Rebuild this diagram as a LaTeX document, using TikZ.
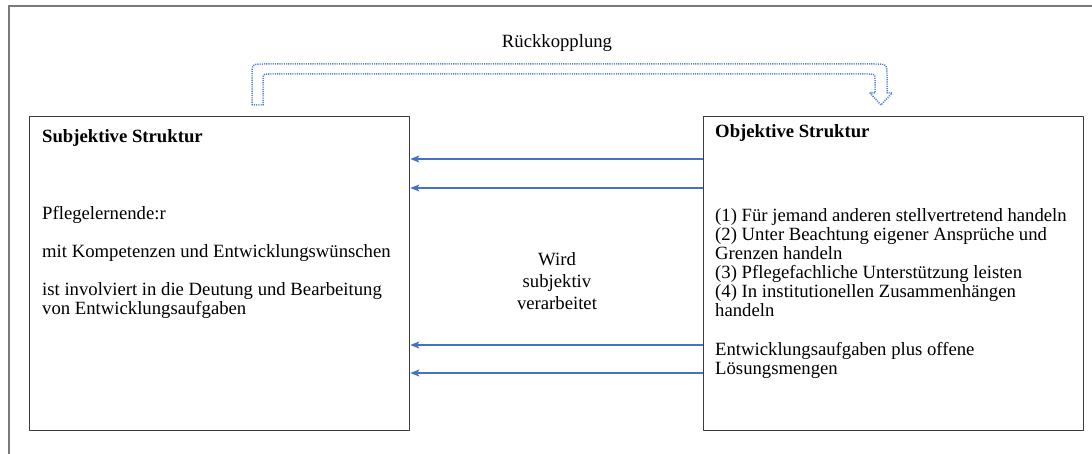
\documentclass[tikz,border=0pt]{standalone}
\usepackage{fontspec}
\setmainfont{Liberation Serif}
\usetikzlibrary{arrows.meta}

\definecolor{rule}{HTML}{7A7A7A}
\definecolor{boxline}{HTML}{3C3C3C}
\definecolor{flow}{HTML}{4472C4}
\definecolor{loopblue}{HTML}{4F7FD6}

\begin{document}
\begin{tikzpicture}[
  x=1pt, y=-1pt,
  line join=round,
  edge/.style={line width=1.3pt, draw=boxline},
  box/.style={edge, anchor=north west, minimum width=380pt, minimum height=314pt, inner sep=0pt},
  txt/.style={font=\fontsize{18.7}{19}\selectfont, anchor=base west, align=left, inner sep=0pt},
  arr/.style={line width=1.4pt, draw=flow, -{Stealth[length=9pt,width=7pt,inset=2pt]}},
  back/.style={line width=1.5pt, draw=loopblue, dash pattern=on 1.1pt off 1.1pt},
]
\useasboundingbox (0,0) rectangle (1092,454);

% ── the page frame, top and left only ─────────────────────────────────────
\draw[draw=rule, line width=1.5pt] (8,6) -- (1092,6);
\draw[draw=rule, line width=1.5pt] (9,6) -- (9,454);

% ── the two structures ────────────────────────────────────────────────────
\node[box] (subj) at (29,116) {};
\node[box] (obj) at (703,116) {};

% multi-line texts are placed by the baseline of their last line
\node[txt] (subjtitle) at (42,143) {\textbf{Subjektive Struktur}};
\node[txt] (subjtext) at (42,315)
  {Pflegelernende:r\\[19pt]
   mit Kompetenzen und Entwicklungswünschen\\[19pt]
   ist involviert in die Deutung und Bearbeitung\\
   von Entwicklungsaufgaben};

\node[txt] (objtitle) at (715,138) {\textbf{Objektive Struktur}};
\node[txt] (objtext) at (715,374)
  {(1) Für jemand anderen stellvertretend handeln\\
   (2) Unter Beachtung eigener Ansprüche und\\
   Grenzen handeln\\
   (3) Pflegefachliche Unterstützung leisten\\
   (4) In institutionellen Zusammenhängen\\
   handeln\\[20pt]
   Entwicklungsaufgaben plus offene\\
   Lösungsmengen};

% ── what flows from the objective to the subjective side ──────────────────
\foreach \d in {43,72,229,257} {
  \draw[arr] ([yshift=-\d pt]obj.north west) -- ([yshift=-\d pt]subj.north east);
}
\node[txt, anchor=base, align=center, font=\fontsize{18.7}{22}\selectfont] (wird) at (557,309)
  {Wird\\subjektiv\\verarbeitet};

% ── the feedback loop, a hollow dotted arrow over both boxes ──────────────
\draw[back] (252,105) -- (252,76) .. controls (252,64) .. (264,64)
  -- (875,64) .. controls (887,64) .. (887,76) -- (887,93) -- (892,93)
  -- (881,105) -- (870,93) -- (875,93) -- (875,80)
  .. controls (875,74) .. (869,74) -- (269,74) .. controls (263,74) .. (263,80)
  -- (263,105) -- cycle;
\node[txt, anchor=base] (rueck) at (557,48) {Rückkopplung};

\end{tikzpicture}
\end{document}
